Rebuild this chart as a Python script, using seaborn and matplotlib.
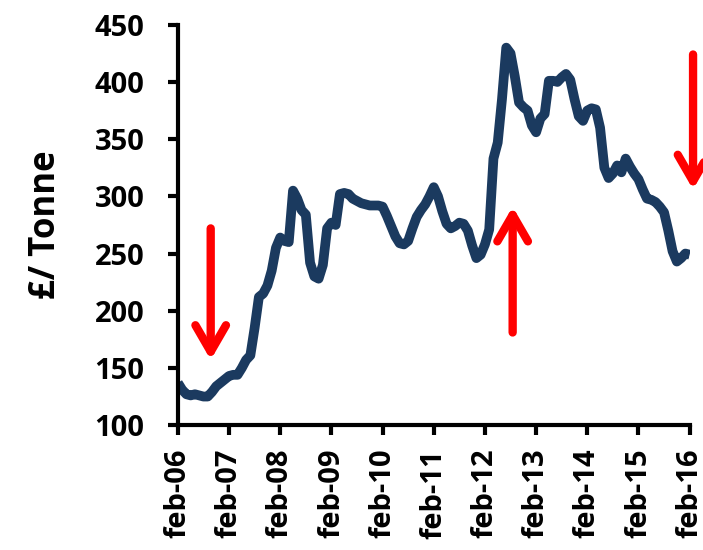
import numpy as np
import pandas as pd
import matplotlib
matplotlib.use("Agg")
import matplotlib.pyplot as plt
import seaborn as sns

# Monthly price, feb-06 .. feb-16 (121 months)
price = [
    137, 131, 127, 126, 127, 126, 125, 125, 129, 134, 137, 140,   # 2006
    143, 144, 144, 150, 157, 161, 185, 212, 215, 222, 235, 255,   # 2007
    264, 261, 260, 305, 298, 288, 284, 242, 230, 228, 240, 272,   # 2008
    277, 275, 302, 303, 302, 298, 296, 294, 293, 292, 292, 292,   # 2009
    291, 283, 274, 265, 259, 258, 261, 272, 282, 288, 293, 300,   # 2010
    308, 300, 287, 276, 272, 274, 277, 276, 270, 257, 246, 249,   # 2011
    258, 271, 333, 347, 385, 430, 425, 405, 382, 378, 375, 362,   # 2012
    356, 368, 372, 401, 401, 400, 404, 407, 402, 385, 370, 366,   # 2013
    375, 377, 376, 360, 325, 316, 320, 327, 321, 333, 326, 320,   # 2014
    315, 306, 298, 297, 295, 291, 286, 270, 252, 243, 246, 250,   # 2015
    249,                                                          # feb-16
]
month = list(range(len(price)))
tick_labels = ["feb-%02d" % y for y in range(6, 17)]

# red arrows: (month, from value, to value)
arrows = [(7.7, 272, 157), (78.5, 181, 291), (120.8, 424, 306)]

df = pd.DataFrame({"month": month, "price": price})

sns.set_style("white")
plt.rcParams["font.family"] = ["Open Sans", "DejaVu Sans"]
plt.rcParams["font.weight"] = "bold"
plt.rcParams["text.color"] = "black"
plt.rcParams["axes.labelcolor"] = "black"
plt.rcParams["xtick.color"] = "black"
plt.rcParams["ytick.color"] = "black"

fig = plt.figure(figsize=(7.03, 5.5), dpi=100)
ax = fig.add_axes([0.253, 0.227, 0.728, 0.728])

sns.lineplot(data=df, x="month", y="price", ax=ax, color="#1b3a5f", linewidth=7,
             solid_joinstyle="round", solid_capstyle="butt")

for x, y0, y1 in arrows:
    ax.annotate("", xy=(x, y1), xytext=(x, y0), annotation_clip=False,
                arrowprops=dict(arrowstyle="->,head_length=0.95,head_width=0.55",
                                color="red", lw=6, mutation_scale=20,
                                shrinkA=0, shrinkB=0))

ax.set_xlim(0, 120)
ax.set_ylim(100, 450)
ax.set_xticks(range(0, 121, 12))
ax.set_xticklabels(tick_labels, rotation=90)
ax.set_yticks(range(100, 451, 50))
ax.set_xlabel("")
ax.set_ylabel("£/ Tonne", fontsize=25, fontweight="bold", labelpad=22)
ax.tick_params(axis="both", labelsize=21, length=7, width=3, direction="out",
               bottom=True, left=True, colors="black")
ax.tick_params(axis="y", pad=17)
ax.tick_params(axis="x", pad=10)
for lab in ax.get_xticklabels() + ax.get_yticklabels():
    lab.set_fontweight("bold")

sns.despine(ax=ax)
for s in ["left", "bottom"]:
    ax.spines[s].set_linewidth(3)
    ax.spines[s].set_color("black")

fig.savefig("out.png", dpi=100)
